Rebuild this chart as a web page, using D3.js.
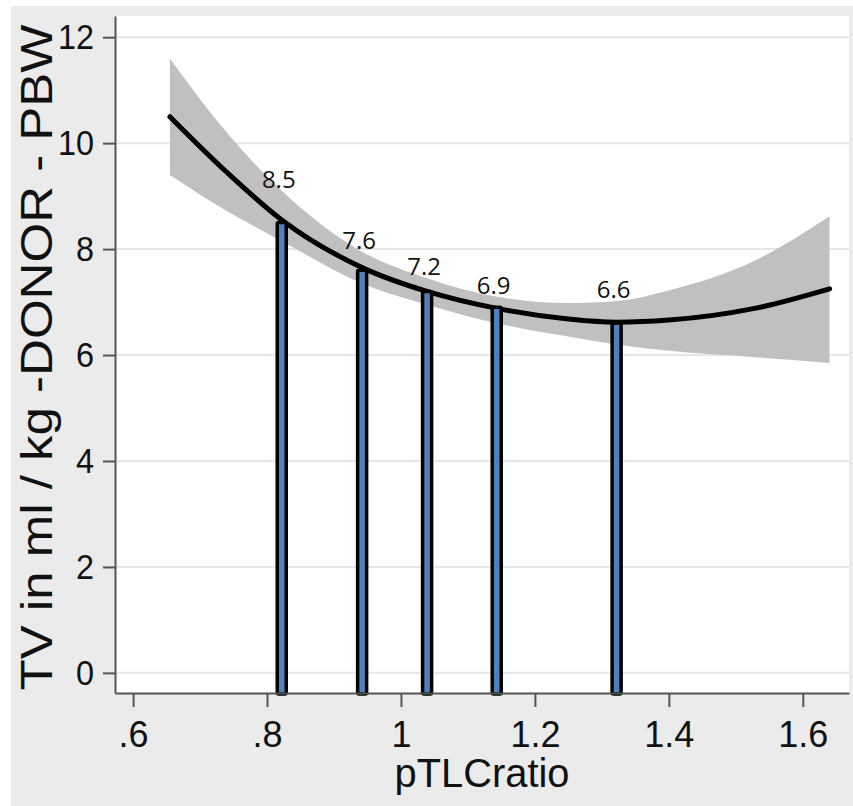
<!DOCTYPE html>
<html>
<head>
<meta charset="utf-8">
<script src="https://cdn.jsdelivr.net/npm/d3@7"></script>
<style>
    body { margin: 0; background: #fff; }
    svg { display: block; }
</style>
</head>
<body>
<div id="chart"></div>
<script>
// bars: predicted TV at each pTLC ratio group
const barX = [0.822, 0.942, 1.039, 1.143, 1.322];
const barValues = [8.5, 7.6, 7.2, 6.9, 6.6];
const barLabels = ["8.5", "7.6", "7.2", "6.9", "6.6"];

// fitted line and its confidence band
const fitX = [0.655, 0.74, 0.822, 0.942, 1.039, 1.143, 1.25, 1.322, 1.40, 1.528, 1.64];
const fitY = [10.5, 9.45, 8.55, 7.65, 7.2, 6.88, 6.68, 6.62, 6.66, 6.88, 7.25];
const ciUpper = [11.6, 10.2, 9.1, 7.95, 7.45, 7.1, 6.98, 7.02, 7.22, 7.78, 8.62];
const ciLower = [9.4, 8.72, 8.15, 7.35, 6.95, 6.6, 6.35, 6.2, 6.08, 5.96, 5.85];

const xTicks = [0.6, 0.8, 1.0, 1.2, 1.4, 1.6];
const yTicks = [0, 2, 4, 6, 8, 10, 12];

const xTitle = "pTLCratio";
const yTitle = "TV in ml / kg -DONOR - PBW";

function drawChart() {
    const width = 853;
    const height = 806;
    const plot = { left: 115, right: 849, top: 16, bottom: 693 };

    const svg = d3.select('#chart').append('svg')
        .attr('width', width)
        .attr('height', height);

    // grey graph region + white plot region
    svg.append('rect')
        .attr('x', 11).attr('y', 6)
        .attr('width', width - 11).attr('height', height - 6)
        .attr('fill', '#ebebeb');
    svg.append('rect')
        .attr('x', plot.left).attr('y', plot.top)
        .attr('width', plot.right - plot.left).attr('height', plot.bottom - plot.top)
        .attr('fill', '#ffffff');

    const x = d3.scaleLinear()
        .domain([0.573, 1.669])
        .range([plot.left, plot.right]);

    const y = d3.scaleLinear()
        .domain([-0.38, 12.4])
        .range([plot.bottom, plot.top]);

    // gridlines
    svg.append('g')
        .selectAll('line')
        .data(yTicks)
        .enter().append('line')
        .attr('x1', plot.left)
        .attr('x2', plot.right)
        .attr('y1', d => y(d))
        .attr('y2', d => y(d))
        .attr('stroke', '#e6e6e6')
        .attr('stroke-width', 2);

    const fitData = d3.zip(fitX, fitY, ciLower, ciUpper);

    const band = d3.area()
        .x(d => x(d[0]))
        .y0(d => y(d[2]))
        .y1(d => y(d[3]))
        .curve(d3.curveMonotoneX);

    svg.append('path')
        .attr('d', band(fitData))
        .attr('fill', '#c0c0c0');

    const line = d3.line()
        .x(d => x(d[0]))
        .y(d => y(d[1]))
        .curve(d3.curveMonotoneX);

    svg.append('path')
        .attr('d', line(fitData))
        .attr('fill', 'none')
        .attr('stroke', '#000')
        .attr('stroke-width', 5)
        .attr('stroke-linecap', 'round');

    const bars = d3.zip(barX, barValues, barLabels);

    svg.append('g')
        .selectAll('rect')
        .data(bars)
        .enter().append('rect')
        .attr('x', d => x(d[0]) - 4.5)
        .attr('y', d => y(d[1]))
        .attr('width', 9)
        .attr('height', d => plot.bottom + 1 - y(d[1]))
        .attr('rx', 1.5)
        .attr('fill', '#4f81bd')
        .attr('stroke', '#000')
        .attr('stroke-width', 3.5);

    // labels sit just above the upper edge of the band
    const upperAt = d3.scaleLinear().domain(fitX).range(ciUpper);

    svg.append('g')
        .selectAll('text')
        .data(bars)
        .enter().append('text')
        .attr('x', d => x(d[0]) - 3)
        .attr('y', d => y(upperAt(d[0])) - 3)
        .attr('text-anchor', 'middle')
        .attr('font-family', '"Open Sans", sans-serif')
        .attr('font-size', 24)
        .attr('fill', '#111')
        .text(d => d[2]);

    // axes
    const yAxis = svg.append('g')
        .attr('transform', `translate(${plot.left},0)`)
        .call(d3.axisLeft(y).tickValues(yTicks).tickSize(12).tickSizeOuter(0).tickPadding(9));

    const xAxis = svg.append('g')
        .attr('transform', `translate(0,${plot.bottom})`)
        .call(d3.axisBottom(x).tickValues(xTicks).tickSize(14).tickSizeOuter(0).tickPadding(14)
            .tickFormat(d => String(d).replace(/^0/, '')));

    [yAxis, xAxis].forEach(g => {
        g.select('.domain').attr('stroke', '#555').attr('stroke-width', 2);
        g.selectAll('.tick line').attr('stroke', '#555').attr('stroke-width', 2);
        g.selectAll('.tick text')
            .attr('font-family', '"Liberation Sans", Arial, sans-serif')
            .attr('font-size', 36)
            .attr('fill', '#111');
    });

    // stata-style digits are a bit narrower than Arial
    yAxis.selectAll('.tick text')
        .attr('x', -21 / 0.9)
        .attr('transform', 'scale(0.9,1)');

    svg.append('text')
        .attr('x', (plot.left + plot.right) / 2)
        .attr('y', 787)
        .attr('text-anchor', 'middle')
        .attr('font-family', '"Liberation Sans", Arial, sans-serif')
        .attr('font-size', 40)
        .attr('textLength', 175)
        .attr('lengthAdjust', 'spacingAndGlyphs')
        .attr('fill', '#111')
        .text(xTitle);

    svg.append('text')
        .attr('transform', `translate(52,${(plot.top + plot.bottom) / 2 + 3}) rotate(-90)`)
        .attr('text-anchor', 'middle')
        .attr('font-family', '"Liberation Sans", Arial, sans-serif')
        .attr('font-size', 44)
        .attr('textLength', 666)
        .attr('lengthAdjust', 'spacingAndGlyphs')
        .attr('fill', '#111')
        .text(yTitle);
}

drawChart();
</script>
</body>
</html>
